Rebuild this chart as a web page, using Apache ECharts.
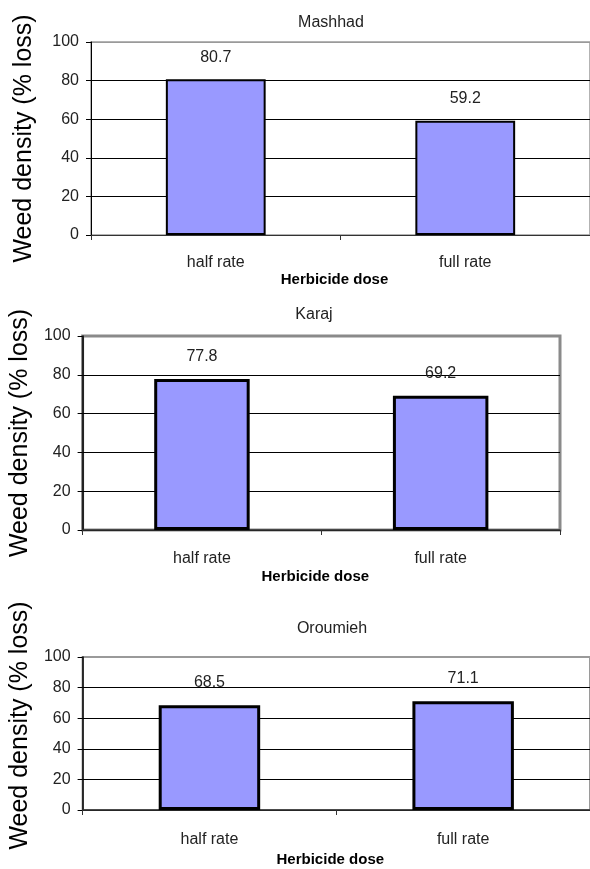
<!DOCTYPE html>
<html>
<head>
<meta charset="utf-8">
<script src="https://cdn.jsdelivr.net/npm/echarts@6/dist/echarts.min.js"></script>
<style>
html,body{margin:0;padding:0;background:#fff;}
#c{width:590px;height:869px;}
</style>
</head>
<body>
<div id="c"></div>
<script>
const categories = ['half rate', 'full rate'];
const titles = ['Mashhad', 'Karaj', 'Oroumieh'];
const mashhad = [80.7, 59.2];
const karaj = [77.8, 69.2];
const oroumieh = [68.5, 71.1];
const yMin = 0, yMax = 100, yStep = 20;
const yName = 'Weed density (% loss)';
const xName = 'Herbicide dose';

const F = 'Liberation Sans, Arial, sans-serif';

const panels = [
  {data: mashhad, grid: {left: 91, top: 42, width: 500, height: 193}, title: {x: 331, y: 15},
   fs: 16, yGap: 54, yPad: [0,0,0,0], xGap: 37, xMargin: 20, border: '#9a9a9a', bw: 1.5, barBw: 2, lblDist: 14, axisW: 1},
  {data: karaj, grid: {left: 80, top: 336, width: 480, height: 194}, title: {x: 314, y: 307},
   fs: 16, yGap: 42, yPad: [0,0,0,0], xGap: 39, xMargin: 21, border: '#8a8a8a', bw: 3, barBw: 3, lblDist: 14, axisW: 1.5},
  {data: oroumieh, grid: {left: 80, top: 657, width: 514, height: 153}, title: {x: 332, y: 621},
   fs: 16, yGap: 43, yPad: [0,0,0,16], xGap: 42, xMargin: 22, border: '#9a9a9a', bw: 2, barBw: 3, lblDist: 15, axisW: 1.5}
];

const option = {
  animation: false,
  backgroundColor: '#fff',
  title: panels.map((p, i) => ({
    text: titles[i], left: p.title.x, top: p.title.y, textAlign: 'center', padding: 0,
    textStyle: {fontFamily: F, fontSize: p.fs, fontWeight: 'normal', color: '#222'}
  })),
  grid: panels.map(p => Object.assign({show: true, borderColor: p.border, borderWidth: p.bw, backgroundColor: 'transparent'}, p.grid)),
  xAxis: panels.map((p, i) => ({
    type: 'category', gridIndex: i, data: categories,
    name: xName, nameLocation: 'middle', nameGap: p.xGap,
    nameTextStyle: {fontFamily: F, fontSize: p.fs - 1, fontWeight: 'bold', color: '#000', padding: [0, 12, 0, 0]},
    axisLine: {lineStyle: {color: '#333', width: p.axisW}},
    axisTick: {show: true, length: 5, lineStyle: {color: '#333', width: 1}},
    axisLabel: {fontFamily: F, fontSize: p.fs, color: '#222', margin: p.xMargin},
    splitLine: {show: false}
  })),
  yAxis: panels.map((p, i) => ({
    type: 'value', gridIndex: i, min: yMin, max: yMax, interval: yStep,
    name: yName, nameLocation: 'middle', nameGap: p.yGap, nameRotate: 90,
    nameTextStyle: {fontFamily: F, fontSize: 25, color: '#000', padding: p.yPad},
    axisLine: {show: true, lineStyle: {color: '#000', width: p.axisW}},
    axisTick: {show: true, length: 5, lineStyle: {color: '#000', width: 1}},
    axisLabel: {fontFamily: F, fontSize: p.fs, color: '#222', margin: 12},
    splitLine: {show: true, lineStyle: {color: ['#000', '#000', '#000', '#000', '#000', p.border], width: 1}}
  })),
  series: panels.map((p, i) => ({
    type: 'bar', xAxisIndex: i, yAxisIndex: i, data: p.data, barWidth: '40%',
    itemStyle: {color: '#9999ff', borderColor: '#000', borderWidth: p.barBw},
    label: {show: true, position: 'top', distance: p.lblDist, fontFamily: F, fontSize: p.fs, color: '#222'}
  }))
};

const chart = echarts.init(document.getElementById('c'), null, {renderer: 'canvas'});
chart.setOption(option);
</script>
</body>
</html>
